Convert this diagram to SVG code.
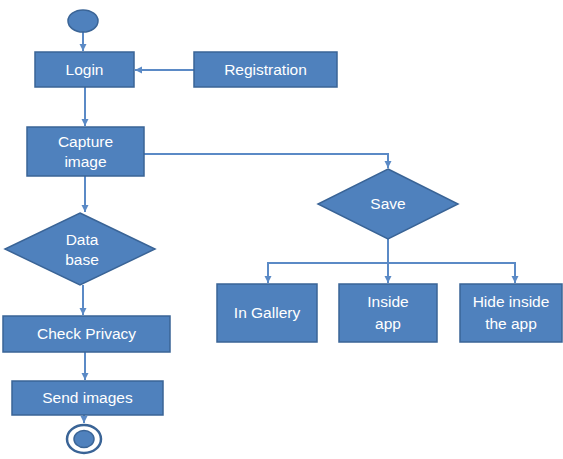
<svg xmlns="http://www.w3.org/2000/svg" width="563" height="459" viewBox="0 0 563 459">
<style>
.n{fill:#4F81BD;stroke:#3A6496;stroke-width:1.5}
.t{fill:#fff;font-family:"Liberation Sans",Arial,sans-serif;font-size:15.5px;text-anchor:middle}
.c{fill:none;stroke:#5B8AC6;stroke-width:2}
</style>
<defs>
<marker id="ah" markerWidth="8" markerHeight="8" refX="7" refY="4" orient="auto" markerUnits="userSpaceOnUse">
<path d="M0,0.5 L7,4 L0,7.5 Z" fill="#5B8AC6"/>
</marker>
</defs>
<rect width="563" height="459" fill="#fff"/>
<g id="connectors">
<line class="c" x1="83" y1="32" x2="83" y2="51" marker-end="url(#ah)"/>
<line class="c" x1="194" y1="70" x2="135" y2="70" marker-end="url(#ah)"/>
<line class="c" x1="85" y1="87" x2="85" y2="126" marker-end="url(#ah)"/>
<polyline class="c" points="144,154 388,154 388,168" marker-end="url(#ah)"/>
<line class="c" x1="85" y1="176" x2="85" y2="212" marker-end="url(#ah)"/>
<line class="c" x1="83" y1="285" x2="83" y2="315" marker-end="url(#ah)"/>
<line class="c" x1="85" y1="352" x2="85" y2="380" marker-end="url(#ah)"/>
<line class="c" x1="84" y1="415" x2="84" y2="423" marker-end="url(#ah)"/>
<line class="c" x1="388" y1="239" x2="388" y2="283" marker-end="url(#ah)"/>
<polyline class="c" points="388,263 268,263 268,283" marker-end="url(#ah)"/>
<polyline class="c" points="388,263 515,263 515,283" marker-end="url(#ah)"/>
</g>
<g id="start"><ellipse class="n" cx="83" cy="21" rx="15" ry="11"/></g>
<g id="login"><rect class="n" x="35" y="52" width="99" height="35"/><text class="t" x="84.5" y="75">Login</text></g>
<g id="registration"><rect class="n" x="194" y="52" width="143" height="35"/><text class="t" x="265.5" y="75">Registration</text></g>
<g id="capture"><rect class="n" x="27" y="127" width="117" height="49"/><text class="t" x="85.5" y="147">Capture</text><text class="t" x="85.5" y="167">image</text></g>
<g id="database"><polygon class="n" points="80,213 155,249 80,285 5,249"/><text class="t" x="82" y="245">Data</text><text class="t" x="82" y="265">base</text></g>
<g id="checkprivacy"><rect class="n" x="3" y="316" width="167" height="36"/><text class="t" x="86.5" y="339">Check Privacy</text></g>
<g id="sendimages"><rect class="n" x="12" y="381" width="151" height="34"/><text class="t" x="87.5" y="403">Send images</text></g>
<g id="end"><ellipse cx="84" cy="439" rx="17" ry="14" fill="#fff" stroke="#3A6496" stroke-width="2.5"/><ellipse class="n" cx="84" cy="439" rx="10" ry="8.5"/></g>
<g id="save"><polygon class="n" points="388,169 458,204 388,239 318,204"/><text class="t" x="388" y="209">Save</text></g>
<g id="gallery"><rect class="n" x="217" y="284" width="100" height="58"/><text class="t" x="267" y="318">In Gallery</text></g>
<g id="insideapp"><rect class="n" x="339" y="284" width="98" height="58"/><text class="t" x="388" y="307">Inside</text><text class="t" x="388" y="329">app</text></g>
<g id="hide"><rect class="n" x="460" y="284" width="102" height="58"/><text class="t" x="511" y="307">Hide inside</text><text class="t" x="511" y="329">the app</text></g>
</svg>
